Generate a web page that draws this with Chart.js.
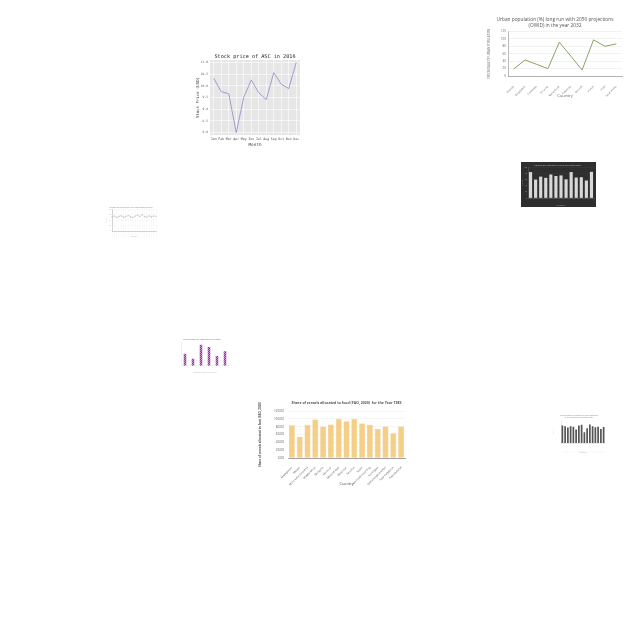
<!DOCTYPE html>
<html><head><meta charset="utf-8">
<script src="https://cdn.jsdelivr.net/npm/chart.js@4"></script>
<style>
html,body{margin:0;padding:0;background:#fff;width:640px;height:640px;overflow:hidden;}
canvas{position:absolute;}
</style></head><body>
<canvas id="c1" width="110" height="98" style="left:195px;top:50px"></canvas>
<canvas id="c2" width="144" height="86" style="left:487px;top:13px"></canvas>
<canvas id="c3" width="75" height="45" style="left:521px;top:162px"></canvas>
<canvas id="c4" width="56" height="34" style="left:104px;top:204px"></canvas>
<canvas id="c5" width="56" height="38" style="left:175px;top:336px"></canvas>
<canvas id="c6" width="158" height="90" style="left:257px;top:397px"></canvas>
<canvas id="c7" width="56" height="42" style="left:552px;top:412px"></canvas>
<script>
// ---- data ----
const stockMonths = ["Jan","Feb","Mar","Apr","May","Jun","Jul","Aug","Sep","Oct","Nov","Dec"];
const stockPrices = [10.32,9.75,9.66,8.0,9.51,10.25,9.70,9.41,10.56,10.07,9.88,11.0];

const urbanCountries = ["Rwanda","Bangladesh","Cambodia","Sri Lanka","Netherlands","Colombia","Burundi","Kuwait","Israel","Saudi Arabia"];
const urbanValues = [18.9,43.3,31.6,19.8,91.1,54.1,16.2,97.4,80.3,86.6];

const darkLabels = ["A","B","C","D","E","F","G","H","I","J","K","L","M"];
const darkValues = [86,61,71,67,78,73,75,62,86,68,69,58,87];

const faintLabels = ["1","2","3","4","5","6","7","8","9","10","11","12","13","14","15","16","17","18","19","20"];
const faintValues = [52,55,50,54,56,51,53,57,52,50,55,58,54,60,53,51,56,52,55,54];

const purpleLabels = ["A","B","C","D","E","F"];
const purpleValues = [50,29,87,78,40,60];

const cerealCountries = ["Madagascar","Malawi","Micronesia (country)","Middle Africa","Mongolia","Morocco","Mozambique","Myanmar","Namibia","Nepal","Net Food Importing","Nicaragua","Netherlands Antilles","New Caledonia","New Zealand"];
const cerealValues = [83.9,54.5,84.8,98.2,80.6,85.6,99.9,94.0,99.9,88.1,84.8,73.8,80.6,62.9,80.6];

const greyLabels = ["1","2","3","4","5","6","7","8","9","10","11","12","13","14","15","16"];
const greyValues = [62,60,55,60,58,48,62,65,38,53,66,60,56,58,50,57];

Chart.defaults.animation = false;
Chart.defaults.devicePixelRatio = 1;
Chart.defaults.font.family = "'Open Sans', sans-serif";

const bgPlugin = {
  id: 'bgfill',
  beforeDraw(chart, args, opts) {
    const ctx = chart.ctx;
    if (opts.canvas) { ctx.save(); ctx.fillStyle = opts.canvas; ctx.fillRect(0,0,chart.width,chart.height); ctx.restore(); }
    if (opts.area) { const a = chart.chartArea; ctx.save(); ctx.fillStyle = opts.area; ctx.fillRect(a.left,a.top,a.right-a.left,a.bottom-a.top); ctx.restore(); }
  }
};
// Title centred on the plot area rather than on the canvas
const areaTitle = {
  id: 'areaTitle',
  afterDraw(chart, args, opts) {
    if (!opts.text) return;
    const a = chart.chartArea, ctx = chart.ctx;
    ctx.save();
    ctx.font = (opts.weight || 'normal') + ' ' + opts.size + 'px ' + opts.family;
    ctx.fillStyle = opts.color; ctx.textAlign = 'center'; ctx.textBaseline = 'middle';
    ctx.fillText(opts.text, (a.left + a.right) / 2, opts.y);
    ctx.restore();
  }
};
Chart.register(bgPlugin, areaTitle);
const fitW = w => (s => { s.width = w; });
const fitH = h => (s => { s.height = h; });

const base = {responsive:false, maintainAspectRatio:false, plugins:{legend:{display:false}, tooltip:{enabled:false}}};

// 1. Stock chart
const mono = "'DejaVu Sans Mono', monospace";
new Chart(document.getElementById('c1'), {
  type:'line',
  data:{labels:stockMonths, datasets:[{data:stockPrices, borderColor:'#8c8cc8', borderWidth:0.8, pointRadius:0, tension:0}]},
  options:{...base,
    layout:{padding:{left:1,right:5,top:10,bottom:1}},
    plugins:{...base.plugins, bgfill:{area:'#e6e6e6'},
      areaTitle:{text:'Stock price of ASC in 2016', family:mono, size:5.2, color:'#222', y:7}},
    scales:{
      x:{offset:true, afterFit:fitH(12), grid:{color:'#ffffff', lineWidth:0.6, drawTicks:false}, border:{display:false},
        ticks:{font:{family:mono,size:3.3}, color:'#555', padding:2, maxRotation:0, autoSkip:false},
        title:{display:true, text:'Month', font:{family:mono,size:4.3}, color:'#444', padding:{top:0,bottom:0}}},
      y:{min:7.9, max:11.1, afterFit:fitW(14), afterBuildTicks(s){s.ticks=[8,8.5,9,9.5,10,10.5,11].map(v=>({value:v}));},
        grid:{color:'#ffffff', lineWidth:0.6, drawTicks:false}, border:{display:false},
        ticks:{font:{family:mono,size:3.0}, color:'#666', padding:2, callback:v=>v.toFixed(1)},
        title:{display:true, text:'Stock Price (USD)', font:{family:mono,size:4.0}, color:'#444', padding:{top:0,bottom:0}}}
    }}
});

// 2. Urban population
new Chart(document.getElementById('c2'), {
  type:'line',
  data:{labels:urbanCountries, datasets:[{data:urbanValues, borderColor:'#7d9a4e', borderWidth:0.9, pointRadius:0, tension:0}]},
  options:{...base,
    layout:{padding:{left:1,right:9,top:0,bottom:1}},
    plugins:{...base.plugins,
      title:{display:true, text:['Urban population (%) long run with 2050 projections','(OWID) in the year 2032'], font:{size:4.8,weight:'normal'}, color:'#555', padding:{top:4,bottom:3}, lineHeight:1.3}},
    scales:{
      x:{offset:true, afterFit:fitH(22), grid:{display:false}, border:{color:'#888',width:0.6},
        ticks:{font:{size:2.5}, color:'#666', maxRotation:45, minRotation:45, autoSkip:false, padding:1},
        title:{display:true, text:'Country', font:{size:4.2}, color:'#666', padding:{top:0,bottom:0}}},
      y:{min:0, max:120, afterFit:fitW(20), ticks:{stepSize:20, font:{size:3.0}, color:'#666', padding:2},
        grid:{color:'#e4e4e4', lineWidth:0.5, drawTicks:false}, border:{color:'#888',width:0.6},
        title:{display:true, text:'PERCENTAGE OF URBAN POPULATION', font:{size:2.8}, color:'#666', padding:{top:0,bottom:1}}}
    }}
});

// 3. Dark bar chart
new Chart(document.getElementById('c3'), {
  type:'bar',
  data:{labels:darkLabels, datasets:[{data:darkValues, backgroundColor:'#d8d8d8', barPercentage:0.62, categoryPercentage:1}]},
  options:{...base,
    layout:{padding:{left:0,right:2,top:0,bottom:0}},
    plugins:{...base.plugins, bgfill:{canvas:'#2e2e2e'},
      title:{display:true, text:'Values by category in the selected year', font:{size:2.4}, color:'#999', padding:{top:2,bottom:1}}},
    scales:{
      x:{afterFit:fitH(9), grid:{display:false}, border:{color:'#777',width:0.4}, ticks:{font:{size:1.8}, color:'#999', padding:1},
        title:{display:true, text:'Category', font:{size:2.2}, color:'#999', padding:0}},
      y:{min:0, max:100, afterFit:fitW(7), ticks:{stepSize:20, font:{size:1.8}, color:'#999', padding:1},
        grid:{color:'#444', lineWidth:0.3, drawTicks:false}, border:{color:'#777',width:0.4},
        title:{display:true, text:'Value', font:{size:2.2}, color:'#999', padding:0}}
    }}
});

// 4. Faint line chart
new Chart(document.getElementById('c4'), {
  type:'line',
  data:{labels:faintLabels, datasets:[{data:faintValues, borderColor:'#c8c8c8', borderWidth:0.5, pointRadius:0.6, pointBackgroundColor:'#bbb', pointBorderWidth:0}]},
  options:{...base,
    layout:{padding:{left:1,right:3,top:0,bottom:0}},
    plugins:{...base.plugins,
      title:{display:true, text:'Measured values over the observation period', font:{size:1.9}, color:'#aaa', padding:{top:2,bottom:1}}},
    scales:{
      x:{afterFit:fitH(7), grid:{color:'#eeeeee', lineWidth:0.3}, border:{color:'#aaa',width:0.5}, ticks:{font:{size:1.6}, color:'#bbb', maxRotation:45, minRotation:45, autoSkip:false, padding:0},
        title:{display:true, text:'Period', font:{size:1.8}, color:'#bbb', padding:0}},
      y:{min:0, max:80, afterFit:fitW(7), ticks:{stepSize:20, font:{size:1.6}, color:'#bbb', padding:1},
        grid:{color:'#eeeeee', lineWidth:0.3, drawTicks:false}, border:{color:'#aaa',width:0.5},
        title:{display:true, text:'Value', font:{size:1.8}, color:'#bbb', padding:0}}
    }}
});

// 5. Purple dotted bars
const pc = document.createElement('canvas'); pc.width=2; pc.height=2;
const px = pc.getContext('2d'); px.fillStyle='#c98fd0'; px.fillRect(0,0,2,2); px.fillStyle='#8e2f9a'; px.fillRect(0,0,1,1); px.fillRect(1,1,1,1);
const purplePattern = document.getElementById('c5').getContext('2d').createPattern(pc,'repeat');
new Chart(document.getElementById('c5'), {
  type:'bar',
  data:{labels:purpleLabels, datasets:[{data:purpleValues, backgroundColor:purplePattern, barPercentage:0.32, categoryPercentage:1}]},
  options:{...base,
    layout:{padding:{left:0,right:2,top:0,bottom:0}},
    plugins:{...base.plugins,
      title:{display:true, text:'Distribution of responses by group', font:{size:2.2}, color:'#999', padding:{top:2,bottom:1}}},
    scales:{
      x:{afterFit:fitH(8.3), grid:{display:false}, border:{color:'#ddd',width:0.4}, ticks:{display:false},
        title:{display:true, text:'Response group (category)', font:{size:1.9}, color:'#bbb', padding:{top:1,bottom:0}}},
      y:{min:0, max:100, afterFit:fitW(6), afterBuildTicks(s){s.ticks=[{value:50}];}, ticks:{font:{size:2.6}, color:'#888', padding:1},
        grid:{display:false}, border:{color:'#ddd',width:0.4}}
    }}
});

// 6. Cereals bar chart
new Chart(document.getElementById('c6'), {
  type:'bar',
  data:{labels:cerealCountries, datasets:[{data:cerealValues, backgroundColor:'rgba(246,204,128,0.95)', borderColor:'#e9b35f', borderWidth:0.4, barPercentage:0.74, categoryPercentage:1}]},
  options:{...base,
    layout:{padding:{left:1,right:10,top:14,bottom:1}},
    plugins:{...base.plugins,
      areaTitle:{text:'Share of cereals allocated to food (FAO, 2020)  for the Year 1983', family:"'Open Sans', sans-serif", weight:'bold', size:3.5, color:'#555', y:5.5}},
    scales:{
      x:{afterFit:fitH(28), grid:{display:false}, border:{color:'#666',width:0.6},
        ticks:{font:{size:2.7}, color:'#555', maxRotation:45, minRotation:45, autoSkip:false, padding:0},
        title:{display:true, text:'Country', font:{size:3.8}, color:'#555', padding:{top:1,bottom:0}}},
      y:{min:0, max:120, afterFit:fitW(30), ticks:{stepSize:20, font:{size:3.2}, color:'#555', padding:4, callback:v=>v.toFixed(2)},
        grid:{color:'#ececec', lineWidth:0.5, drawTicks:false}, border:{display:false},
        title:{display:true, text:'Share of cereals allocated to food (FAO, 2020)', font:{size:2.9,weight:'bold'}, color:'#555', padding:{top:0,bottom:2}}}
    }}
});

// 7. Grey bars
new Chart(document.getElementById('c7'), {
  type:'bar',
  data:{labels:greyLabels, datasets:[{data:greyValues, backgroundColor:'#555555', barPercentage:0.62, categoryPercentage:1}]},
  options:{...base,
    layout:{padding:{left:1,right:3,top:0,bottom:0}},
    plugins:{...base.plugins,
      title:{display:true, text:['Annual totals recorded for each category','in the selected reporting year'], font:{size:1.9}, color:'#aaa', padding:{top:2,bottom:2}, lineHeight:1.2}},
    scales:{
      x:{afterFit:fitH(11), grid:{display:false}, border:{color:'#ccc',width:0.4}, ticks:{font:{size:1.5}, color:'#bbb', maxRotation:45, minRotation:45, autoSkip:false, padding:0},
        title:{display:true, text:'Category', font:{size:1.8}, color:'#bbb', padding:0}},
      y:{min:0, max:80, afterFit:fitW(8), ticks:{stepSize:20, font:{size:1.5}, color:'#ccc', padding:1},
        grid:{display:false}, border:{color:'#ccc',width:0.4},
        title:{display:true, text:'Value', font:{size:1.7}, color:'#ccc', padding:0}}
    }}
});
</script>
</body></html>
